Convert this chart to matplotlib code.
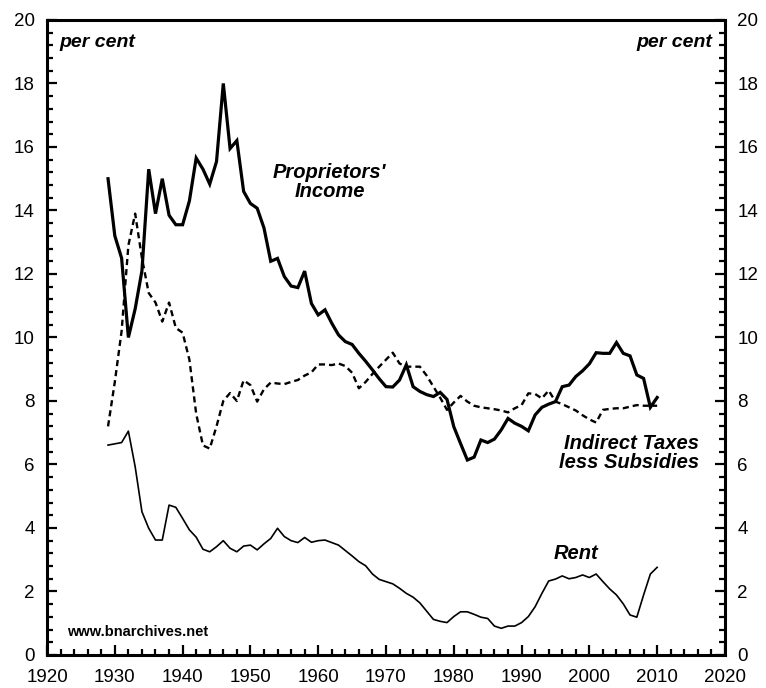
import matplotlib
matplotlib.use("Agg")
import matplotlib.pyplot as plt
from matplotlib.ticker import MultipleLocator

years = list(range(1929, 2011))

proprietors_income = [
    15.0, 13.2, 12.5, 10.0, 10.9, 12.1, 15.3, 13.9, 15.0, 13.85,
    13.55, 13.55, 14.3, 15.65, 15.3, 14.83, 15.54, 18.0, 15.95, 16.2,
    14.6, 14.22, 14.07, 13.45, 12.4, 12.49, 11.92, 11.62, 11.57, 12.09,
    11.07, 10.71, 10.87, 10.45, 10.08, 9.87, 9.78, 9.5, 9.25, 8.98,
    8.7, 8.45, 8.44, 8.66, 9.14, 8.45, 8.3, 8.2, 8.14, 8.27,
    8.05, 7.19, 6.66, 6.14, 6.23, 6.77, 6.69, 6.8, 7.09, 7.45,
    7.3, 7.2, 7.06, 7.56, 7.8, 7.9, 7.98, 8.45, 8.5, 8.77,
    8.95, 9.17, 9.52, 9.5, 9.5, 9.84, 9.5, 9.42, 8.82, 8.71,
    7.8, 8.11,
]

indirect_taxes = [
    7.2, 8.6, 10.2, 12.9, 13.9, 12.5, 11.4, 11.1, 10.5, 11.1,
    10.3, 10.15, 9.3, 7.6, 6.6, 6.5, 7.2, 8.0, 8.25, 8.0,
    8.65, 8.5, 7.98, 8.37, 8.58, 8.55, 8.53, 8.6, 8.66, 8.8,
    8.9, 9.15, 9.15, 9.13, 9.18, 9.1, 8.89, 8.4, 8.6, 8.85,
    9.08, 9.3, 9.52, 9.18, 9.08, 9.08, 9.08, 8.8, 8.45, 8.1,
    7.72, 7.95, 8.16, 7.98, 7.85, 7.8, 7.77, 7.74, 7.7, 7.64,
    7.77, 7.87, 8.24, 8.22, 8.08, 8.33, 7.98, 7.9, 7.8, 7.7,
    7.55, 7.42, 7.32, 7.72, 7.75, 7.77, 7.77, 7.82, 7.87, 7.85,
    7.85, 7.85,
]

rent = [
    6.61, 6.65, 6.69, 7.05, 5.93, 4.51, 3.99, 3.62, 3.62, 4.72,
    4.65, 4.3, 3.94, 3.71, 3.33, 3.25, 3.41, 3.6, 3.36, 3.25,
    3.43, 3.46, 3.31, 3.5, 3.67, 3.99, 3.73, 3.6, 3.54, 3.7,
    3.55, 3.6, 3.62, 3.54, 3.46, 3.29, 3.12, 2.94, 2.81, 2.55,
    2.38, 2.31, 2.24, 2.1, 1.94, 1.82, 1.64, 1.38, 1.12, 1.06,
    1.02, 1.21, 1.36, 1.36, 1.28, 1.19, 1.15, 0.91, 0.84, 0.91,
    0.91, 1.02, 1.21, 1.52, 1.94, 2.33, 2.39, 2.49, 2.4, 2.44,
    2.52, 2.44, 2.55, 2.31, 2.08, 1.89, 1.61, 1.26, 1.19, 1.89,
    2.55, 2.76,
]

plt.rcParams["font.family"] = ["Liberation Sans", "DejaVu Sans"]

fig = plt.figure(figsize=(7.66, 6.88), dpi=100)
ax = fig.add_axes([0.0614, 0.048, 0.885, 0.923])

ax.plot(years, proprietors_income, color="black", lw=2.3, solid_joinstyle="miter")
ax.plot(years, indirect_taxes, color="black", lw=1.7, dashes=(2.6, 1.7))
ax.plot(years, rent, color="black", lw=1.2)

ax.set_xlim(1920, 2020)
ax.set_ylim(0, 20)
ax.xaxis.set_major_locator(MultipleLocator(10))
ax.xaxis.set_minor_locator(MultipleLocator(2))
ax.yaxis.set_major_locator(MultipleLocator(2))
ax.yaxis.set_minor_locator(MultipleLocator(0.4))

for s in ax.spines.values():
    s.set_linewidth(2.2)

ax.tick_params(axis="both", which="both", direction="in", labelsize=13.5,
               width=1.6, top=False)
ax.tick_params(axis="y", which="both", left=True, right=True,
               labelleft=True, labelright=True, pad=9)
ax.tick_params(axis="x", pad=10)
ax.tick_params(which="major", length=7)
ax.tick_params(which="minor", length=4)

# unit labels in both top corners
ax.text(0.019, 0.978, "per cent", transform=ax.transAxes, ha="left", va="top",
        fontsize=14, fontweight="bold", style="italic")
ax.text(0.981, 0.978, "per cent", transform=ax.transAxes, ha="right", va="top",
        fontsize=14, fontweight="bold", style="italic")

lab = dict(fontsize=14.5, fontweight="bold", style="italic", ha="center", va="center")
ax.text(1961.7, 14.9, "Proprietors'\nIncome", linespacing=1.0, **lab)
ax.text(2016.2, 6.36, "Indirect Taxes\nless Subsidies", linespacing=1.0,
        **{**lab, "ha": "right"})
ax.text(1998, 3.2, "Rent", **lab)
ax.text(1923, 0.72, "www.bnarchives.net", fontsize=10.5, fontweight="bold",
        ha="left", va="center")

fig.savefig("out.png", dpi=100)
plt.close(fig)
